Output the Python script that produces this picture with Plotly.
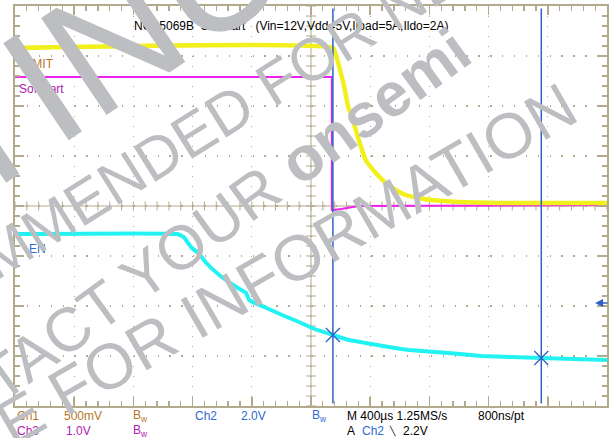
import plotly.graph_objects as go

# ---------------- data (read from the scope screen) ----------------
# time in microseconds from left edge of screen (400 us/div, 10 div)
ch1_t = [0, 2148, 2162, 2189, 2222, 2250, 2276, 2323, 2370, 2438, 2505, 2572, 2640, 2727, 2815, 2997, 3266, 4000]
ch1_v = [1.58, 1.58, 1.54, 1.40, 1.21, 1.00, 0.89, 0.66, 0.46, 0.33, 0.23, 0.16, 0.11, 0.08, 0.06, 0.04, 0.03, 0.03]

ch3_t = [0, 2141, 2141, 2155, 2202, 2260, 2323, 4000]
ch3_v = [2.58, 2.58, -0.08, -0.08, -0.06, -0.03, 0.0, 0.02]

ch2_t = [0, 1098, 1140, 1165, 1195, 1246, 1293, 1380, 1495, 1562, 1582, 1684, 1805, 1919, 2007,
         2148, 2256, 2370, 2525, 2660, 2929, 3152, 3556, 4000]
ch2_v = [4.96, 4.96, 4.84, 4.64, 4.40, 4.16, 3.80, 3.32, 2.84, 2.60, 2.32, 2.04, 1.72, 1.44, 1.20,
         0.92, 0.72, 0.60, 0.44, 0.32, 0.20, 0.08, 0.00, -0.08]

ch_scale = [0.5, 2.0, 1.0]        # V/div for Ch1, Ch2, Ch3
ch_ground = [0.0, -3.04, 0.0]     # ground marker position (div from centre)
trig_level = 2.2                  # V on Ch2
cursor_t = [2148, 3556]
cursor_v = [0.92, 0.00]           # Ch2 value at cursors

title_text = "NCP5069B \u00a0Softstart \u00a0 (Vin=12V,Vdd=5V,Iload=5A,Ildo=2A)"
ch_labels = ["ILIMIT", "EN", "Softstart"]

# ---------------- geometry / style ----------------
W, H = 612, 438
L, R, T, B = 15, 3, 6, 32
PW, PH = W - L - R, H - T - B
GR = "#B3A98C"
YEL, CYN, MAG, BLU = "#F2F01C", "#22F2F2", "#EE22EE", "#2F62C8"
BRN, TXTBLU, TXTMAG = "#B8762C", "#2F6AD0", "#B020B0"
WM = "#BDBEC1"
FONT = "Liberation Sans"
T_SPAN, DIVS_X, DIVS_Y = 4000.0, 10, 8


def to_div(vals, ch):
    return [v / ch_scale[ch] + ch_ground[ch] for v in vals]


def paper(px, py):
    return (px - L) / PW, (H - B - py) / PH


fig = go.Figure()

# centre cross with tick marks (graticule chrome)
cx, cy = [0, T_SPAN, None], [0, 0, None]
step = T_SPAN / DIVS_X / 5
for k in range(0, DIVS_X * 5 + 1):
    t = k * step
    cx += [t, t, None]
    cy += [-0.09, 0.09, None]
cx += [T_SPAN / 2, T_SPAN / 2, None]
cy += [-4, 4, None]
half = 5 * T_SPAN / PW
for k in range(0, DIVS_Y * 5 + 1):
    yv = -4 + k * 0.2
    cx += [T_SPAN / 2 - half, T_SPAN / 2 + half, None]
    cy += [yv, yv, None]
fig.add_trace(go.Scatter(x=cx, y=cy, mode="lines", line=dict(color=GR, width=1),
                         hoverinfo="skip", showlegend=False))

# waveforms
fig.add_trace(go.Scatter(x=ch3_t, y=to_div(ch3_v, 2), mode="lines",
                         line=dict(color=MAG, width=2), showlegend=False))
fig.add_trace(go.Scatter(x=ch1_t, y=to_div(ch1_v, 0), mode="lines",
                         line=dict(color=YEL, width=4.5, shape="spline", smoothing=0.6), showlegend=False))
fig.add_trace(go.Scatter(x=ch2_t, y=to_div(ch2_v, 1), mode="lines",
                         line=dict(color=CYN, width=4, shape="spline", smoothing=0.3), showlegend=False))

# cursors
for ct in cursor_t:
    fig.add_trace(go.Scatter(x=[ct, ct], y=[-3.95, 3.95], mode="lines",
                             line=dict(color=BLU, width=1.5), hoverinfo="skip", showlegend=False))
fig.add_trace(go.Scatter(x=cursor_t, y=to_div(cursor_v, 1), mode="markers",
                         marker=dict(symbol="x-thin", size=14, line=dict(color=BLU, width=1.3)),
                         showlegend=False))

# ground markers on left edge
fig.add_trace(go.Scatter(x=[-22, -22], y=[ch_ground[0], ch_ground[1]], mode="markers",
                         marker=dict(symbol="triangle-right", size=6, color=[BRN, BLU]),
                         cliponaxis=False, showlegend=False, hoverinfo="skip"))

ann = []
# trigger level arrow on right edge
ta = T_SPAN - 12 * T_SPAN / PW
ann.append(dict(x=ta, y=trig_level / ch_scale[1] + ch_ground[1], xref="x", yref="y",
                text="", showarrow=True, ax=14, ay=0, arrowhead=2, arrowsize=1,
                arrowwidth=1.6, arrowcolor=BLU))


def txt(px, py, s, color="black", size=12, anchor="left", **kw):
    x, y = paper(px, py)
    d = dict(x=x, y=y, xref="paper", yref="paper", text=s, showarrow=False,
             xanchor=anchor, yanchor="middle", font=dict(family=FONT, size=size, color=color))
    d.update(kw)
    ann.append(d)


txt(132, 26, title_text)
txt(17, 64, ch_labels[0], BRN)
txt(27, 249, ch_labels[1], TXTBLU)
txt(17, 89, ch_labels[2], TXTMAG)

# bottom status lines
txt(15, 416, "Ch1", BRN)
txt(62, 416, "500mV", BRN)
txt(131, 416, "B<sub>w</sub>", BRN)
txt(194, 416, "Ch2", TXTBLU)
txt(240, 416, "2.0V", TXTBLU)
txt(311, 416, "B<sub>w</sub>", TXTBLU)
txt(346, 416, "M 400\u00b5s 1.25MS/s")
txt(478, 416, "800ns/pt")
txt(15, 431, "Ch3", TXTMAG)
txt(64, 431, "1.0V", TXTMAG)
txt(131, 431, "B<sub>w</sub>", TXTMAG)
txt(346, 431, "A")
txt(361, 431, "Ch2", TXTBLU)
txt(388, 431, "\u2572", size=9)
txt(402, 431, "2.2V")

# watermark
txt(-75, 166, "DISCONTINUED", WM, size=170, anchor="center", textangle=-34)
txt(215, 120, "NOT RECOMMENDED FOR NEW DESIGN", WM, size=60, anchor="center", textangle=-32)
txt(170, 255, "CONTACT YOUR <b>onsemi</b>", WM, size=62, anchor="center", textangle=-36)
txt(60, 395, "REPRESENTATIVE FOR INFORMATION", WM, size=64, anchor="center", textangle=-30)

fig.update_layout(
    width=W, height=H, margin=dict(l=L, r=R, t=T, b=B),
    paper_bgcolor="white", plot_bgcolor="white",
    annotations=ann, showlegend=False,
)
fig.update_xaxes(range=[0, T_SPAN], showticklabels=False, showgrid=True, dtick=T_SPAN / DIVS_X,
                 gridcolor=GR, gridwidth=1.3, griddash="1.3px,8.7px", zeroline=False,
                 showline=True, linecolor=GR, linewidth=2, mirror="allticks",
                 ticks="inside", ticklen=9, tickcolor=GR, tickwidth=1.5,
                 minor=dict(dtick=T_SPAN / DIVS_X / 5, ticks="inside", ticklen=5, tickcolor=GR, tickwidth=1.3))
fig.update_yaxes(range=[-4, 4], showticklabels=False, showgrid=True, dtick=1,
                 gridcolor=GR, gridwidth=1.3, griddash="1.3px,10.58px", zeroline=False,
                 showline=True, linecolor=GR, linewidth=2, mirror="allticks",
                 ticks="inside", ticklen=9, tickcolor=GR, tickwidth=1.5,
                 minor=dict(dtick=0.2, ticks="inside", ticklen=5, tickcolor=GR, tickwidth=1.3))

fig.write_html("out.html", config={"displayModeBar": False, "staticPlot": True},
               post_script="document.body.style.margin='0';document.body.style.overflow='hidden';")
